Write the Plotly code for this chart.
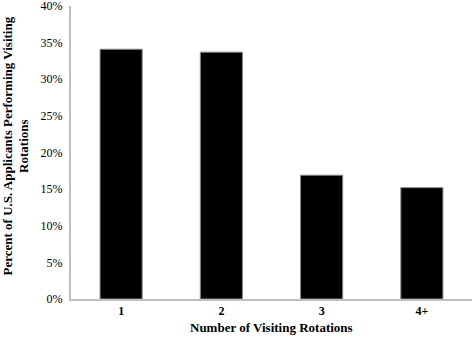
import plotly.graph_objects as go

categories = ["1", "2", "3", "4+"]
values = [0.341, 0.337, 0.169, 0.152]
y_ticks = [0, 0.05, 0.10, 0.15, 0.20, 0.25, 0.30, 0.35, 0.40]
y_tick_labels = ["0%", "5%", "10%", "15%", "20%", "25%", "30%", "35%", "40%"]
x_title = "Number of Visiting Rotations"
y_title = "Percent of U.S. Applicants Performing Visiting<br>Rotations"

fig = go.Figure(go.Bar(
    x=categories, y=values,
    marker=dict(color="black", line=dict(color="#888888", width=1)),
))

font_family = "Liberation Serif"
fig.update_layout(
    width=473, height=339,
    margin=dict(l=71, r=1, t=6, b=40),
    paper_bgcolor="white", plot_bgcolor="white",
    bargap=0.58,
    showlegend=False,
    font=dict(family=font_family, color="black", size=12),
    xaxis=dict(
        showline=True, linecolor="#bfbfbf", linewidth=2,
        showgrid=False, ticks="", automargin=False,
        tickfont=dict(family=font_family, size=12, weight="bold"),
    ),
    yaxis=dict(
        range=[0, 0.40], tickvals=y_ticks, ticktext=y_tick_labels,
        showline=True, linecolor="#bfbfbf", linewidth=2,
        showgrid=False, ticks="", zeroline=False, automargin=False,
        tickfont=dict(size=12), ticklabelstandoff=4,
        ticklabeloverflow="allow",
    ),
    annotations=[
        dict(text="<b>" + x_title + "</b>", xref="paper", yref="paper",
             x=0.5, y=0, yshift=-28, yanchor="middle", showarrow=False,
             font=dict(size=13)),
        dict(text="<b>" + y_title + "</b>", xref="paper", yref="paper",
             x=0, xshift=-56, y=0.5, yshift=6, xanchor="center", yanchor="middle",
             textangle=-90, showarrow=False, font=dict(size=13)),
    ],
)

fig.write_html("out.html", config={"displayModeBar": False},
               post_script="document.body.style.margin='0';document.body.style.overflow='hidden';")
